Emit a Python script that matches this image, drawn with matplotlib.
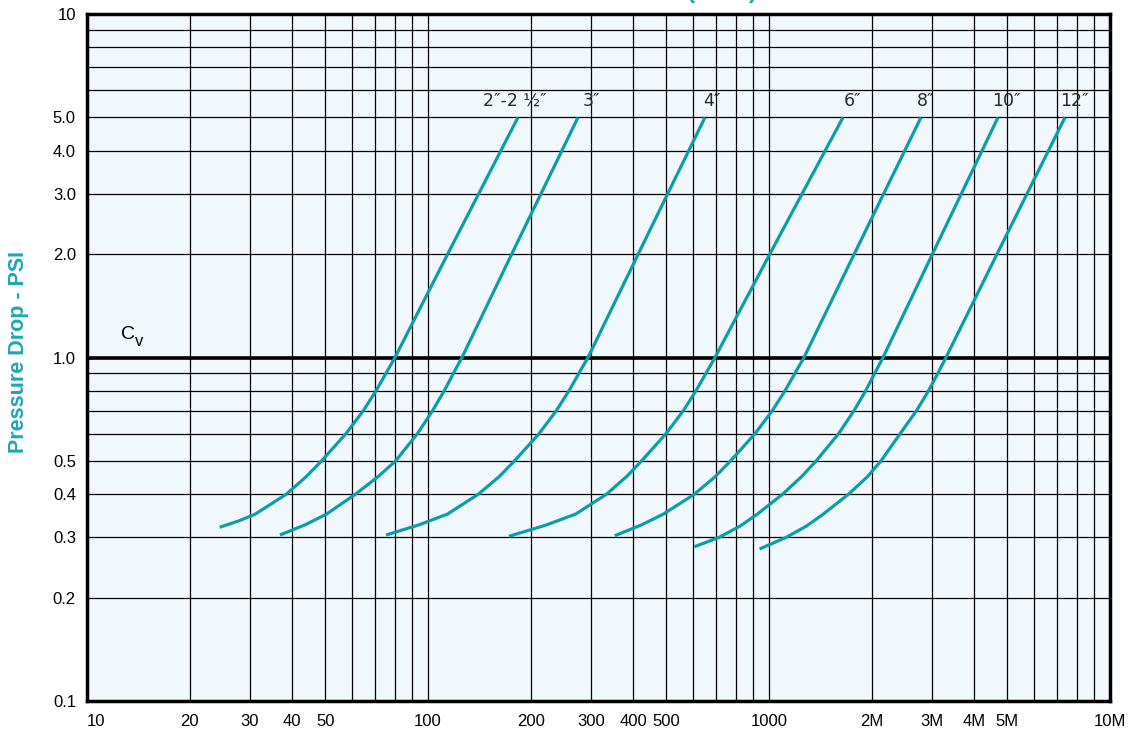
import matplotlib
matplotlib.use('Agg')
import matplotlib.pyplot as plt
from matplotlib.ticker import NullFormatter

plt.rcParams['font.family'] = ['Liberation Sans', 'DejaVu Sans']

# pipe sizes and curve points (flow in GPM, pressure drop in PSI)
sizes = ['2\u2033-2 \u00bd\u2033', '3\u2033', '4\u2033', '6\u2033', '8\u2033', '10\u2033', '12\u2033']

flow_2 = [24.50, 27.96, 31.15, 38.42, 43.95, 48.75, 57.47, 64.61, 70.39, 75.32, 80.02, 114.2, 183.6]
dp_2 = [0.3205, 0.3348, 0.35, 0.40, 0.45, 0.50, 0.60, 0.70, 0.80, 0.90, 1.0, 2.0, 5.0]

flow_3 = [36.81, 43.77, 50.39, 61.29, 71.40, 80.35, 93.09, 103.15, 111.6, 118.8, 125.8, 176.0, 275.4]
dp_3 = [0.3042, 0.3263, 0.35, 0.40, 0.45, 0.50, 0.60, 0.70, 0.80, 0.90, 1.0, 2.0, 5.0]

flow_4 = [75.32, 94.61, 114.0, 140.5, 161.7, 179.4, 211.6, 237.8, 259.1, 277.2, 294.6, 413.5, 649.1]
dp_4 = [0.3042, 0.3263, 0.35, 0.40, 0.45, 0.50, 0.60, 0.70, 0.80, 0.90, 1.0, 2.0, 5.0]

flow_6 = [172.8, 221.2, 270.9, 333.9, 382.1, 423.1, 498.8, 560.8, 610.7, 653.5, 694.4, 1005.4, 1648.4]
dp_6 = [0.3016, 0.3249, 0.35, 0.40, 0.45, 0.50, 0.60, 0.70, 0.80, 0.90, 1.0, 2.0, 5.0]

flow_8 = [353.0, 422.7, 490.1, 604.2, 695.4, 771.7, 909.7, 1022.5, 1114.1, 1192.0, 1266.5, 1777.8, 2791.0]
dp_8 = [0.3028, 0.3256, 0.35, 0.40, 0.45, 0.50, 0.60, 0.70, 0.80, 0.90, 1.0, 2.0, 5.0]

flow_10 = [604.2, 716.4, 824.4, 924.6, 1096.1, 1246.2, 1375.2, 1600.0, 1775.4, 1920.2, 2043.0,
           2159.3, 3014.4, 4694.5]
dp_10 = [0.2812, 0.30, 0.3234, 0.35, 0.40, 0.45, 0.50, 0.60, 0.70, 0.80, 0.90, 1.0, 2.0, 5.0]

flow_12 = [938.5, 1127.0, 1290.7, 1442.8, 1710.9, 1945.0, 2130.4, 2423.6, 2707.4, 2936.0, 3128.3,
           3303.8, 4662.9, 7380.2]
dp_12 = [0.2770, 0.30, 0.3234, 0.35, 0.40, 0.45, 0.50, 0.60, 0.70, 0.80, 0.90, 1.0, 2.0, 5.0]

curves = [(flow_2, dp_2), (flow_3, dp_3), (flow_4, dp_4), (flow_6, dp_6),
          (flow_8, dp_8), (flow_10, dp_10), (flow_12, dp_12)]

label_x = [180, 301, 682, 1762, 2884, 4955, 7885]
label_y = 5.58

x_ticks = [10, 20, 30, 40, 50, 100, 200, 300, 400, 500, 1000, 2000, 3000, 4000, 5000, 10000]
x_labels = ['10', '20', '30', '40', '50', '100', '200', '300', '400', '500', '1000',
            '2M', '3M', '4M', '5M', '10M']
y_ticks = [0.1, 0.2, 0.3, 0.4, 0.5, 1.0, 2.0, 3.0, 4.0, 5.0, 10]
y_labels = ['0.1', '0.2', '0.3', '0.4', '0.5', '1.0', '2.0', '3.0', '4.0', '5.0', '10']

teal = '#0c9ea8'
label_teal = '#1aa7b5'

fig = plt.figure(figsize=(11.32, 7.34), dpi=100)
ax = fig.add_axes([87 / 1132, 33 / 734, 1023 / 1132, 687 / 734])
ax.set_facecolor('#f1f8fb')
ax.set_xscale('log')
ax.set_yscale('log')
ax.set_xlim(10, 10000)
ax.set_ylim(0.1, 10)

# grid at every 1..9 step of each decade
grid_x = [m * 10 ** e for e in range(1, 4) for m in range(1, 10)] + [10000]
grid_y = [m * 10 ** e for e in range(-1, 1) for m in range(1, 10)] + [10]
for gx in grid_x:
    ax.axvline(gx, color='black', lw=0.9, zorder=1)
for gy in grid_y:
    ax.axhline(gy, color='black', lw=0.9, zorder=1)
ax.axhline(1.0, color='black', lw=2.6, zorder=2)

for (fl, dp) in curves:
    ax.plot(fl, dp, color=teal, lw=2.3, solid_capstyle='butt', solid_joinstyle='round', zorder=3)

for s, lx in zip(sizes, label_x):
    ax.text(lx, label_y, s, ha='center', va='center', fontsize=12.5,
            family=['DejaVu Sans'], color='#2a2a2a', zorder=4)

# C with a subscript v
ax.text(12.58, 1.132, 'C', fontsize=14, color='black', va='baseline', zorder=4)
ax.text(13.83, 1.080, 'v', fontsize=12, color='black', va='baseline', zorder=4)

ax.set_xticks(x_ticks)
ax.set_xticklabels(x_labels)
ax.xaxis.set_minor_formatter(NullFormatter())
ax.get_xticklabels()[0].set_horizontalalignment('left')
ax.set_yticks(y_ticks)
ax.set_yticklabels(y_labels)
ax.yaxis.set_minor_formatter(NullFormatter())
ax.tick_params(which='both', length=0, labelsize=12)
ax.tick_params(axis='x', pad=9)
ax.tick_params(axis='y', pad=8)

for sp in ax.spines.values():
    sp.set_linewidth(2.5)
    sp.set_zorder(5)

ax.set_ylabel('Pressure Drop - PSI', color=label_teal, fontsize=15.5, fontweight='bold')
ax.yaxis.set_label_coords(-0.057, 0.508)

# title sits above the canvas, only the bottoms of the brackets show
fig.text(757 / 1132, 1.003, 'Flow Rate (GPM)', ha='right', va='baseline',
         fontsize=17, fontweight='bold', color=label_teal)

plt.savefig('out.png', dpi=100)
